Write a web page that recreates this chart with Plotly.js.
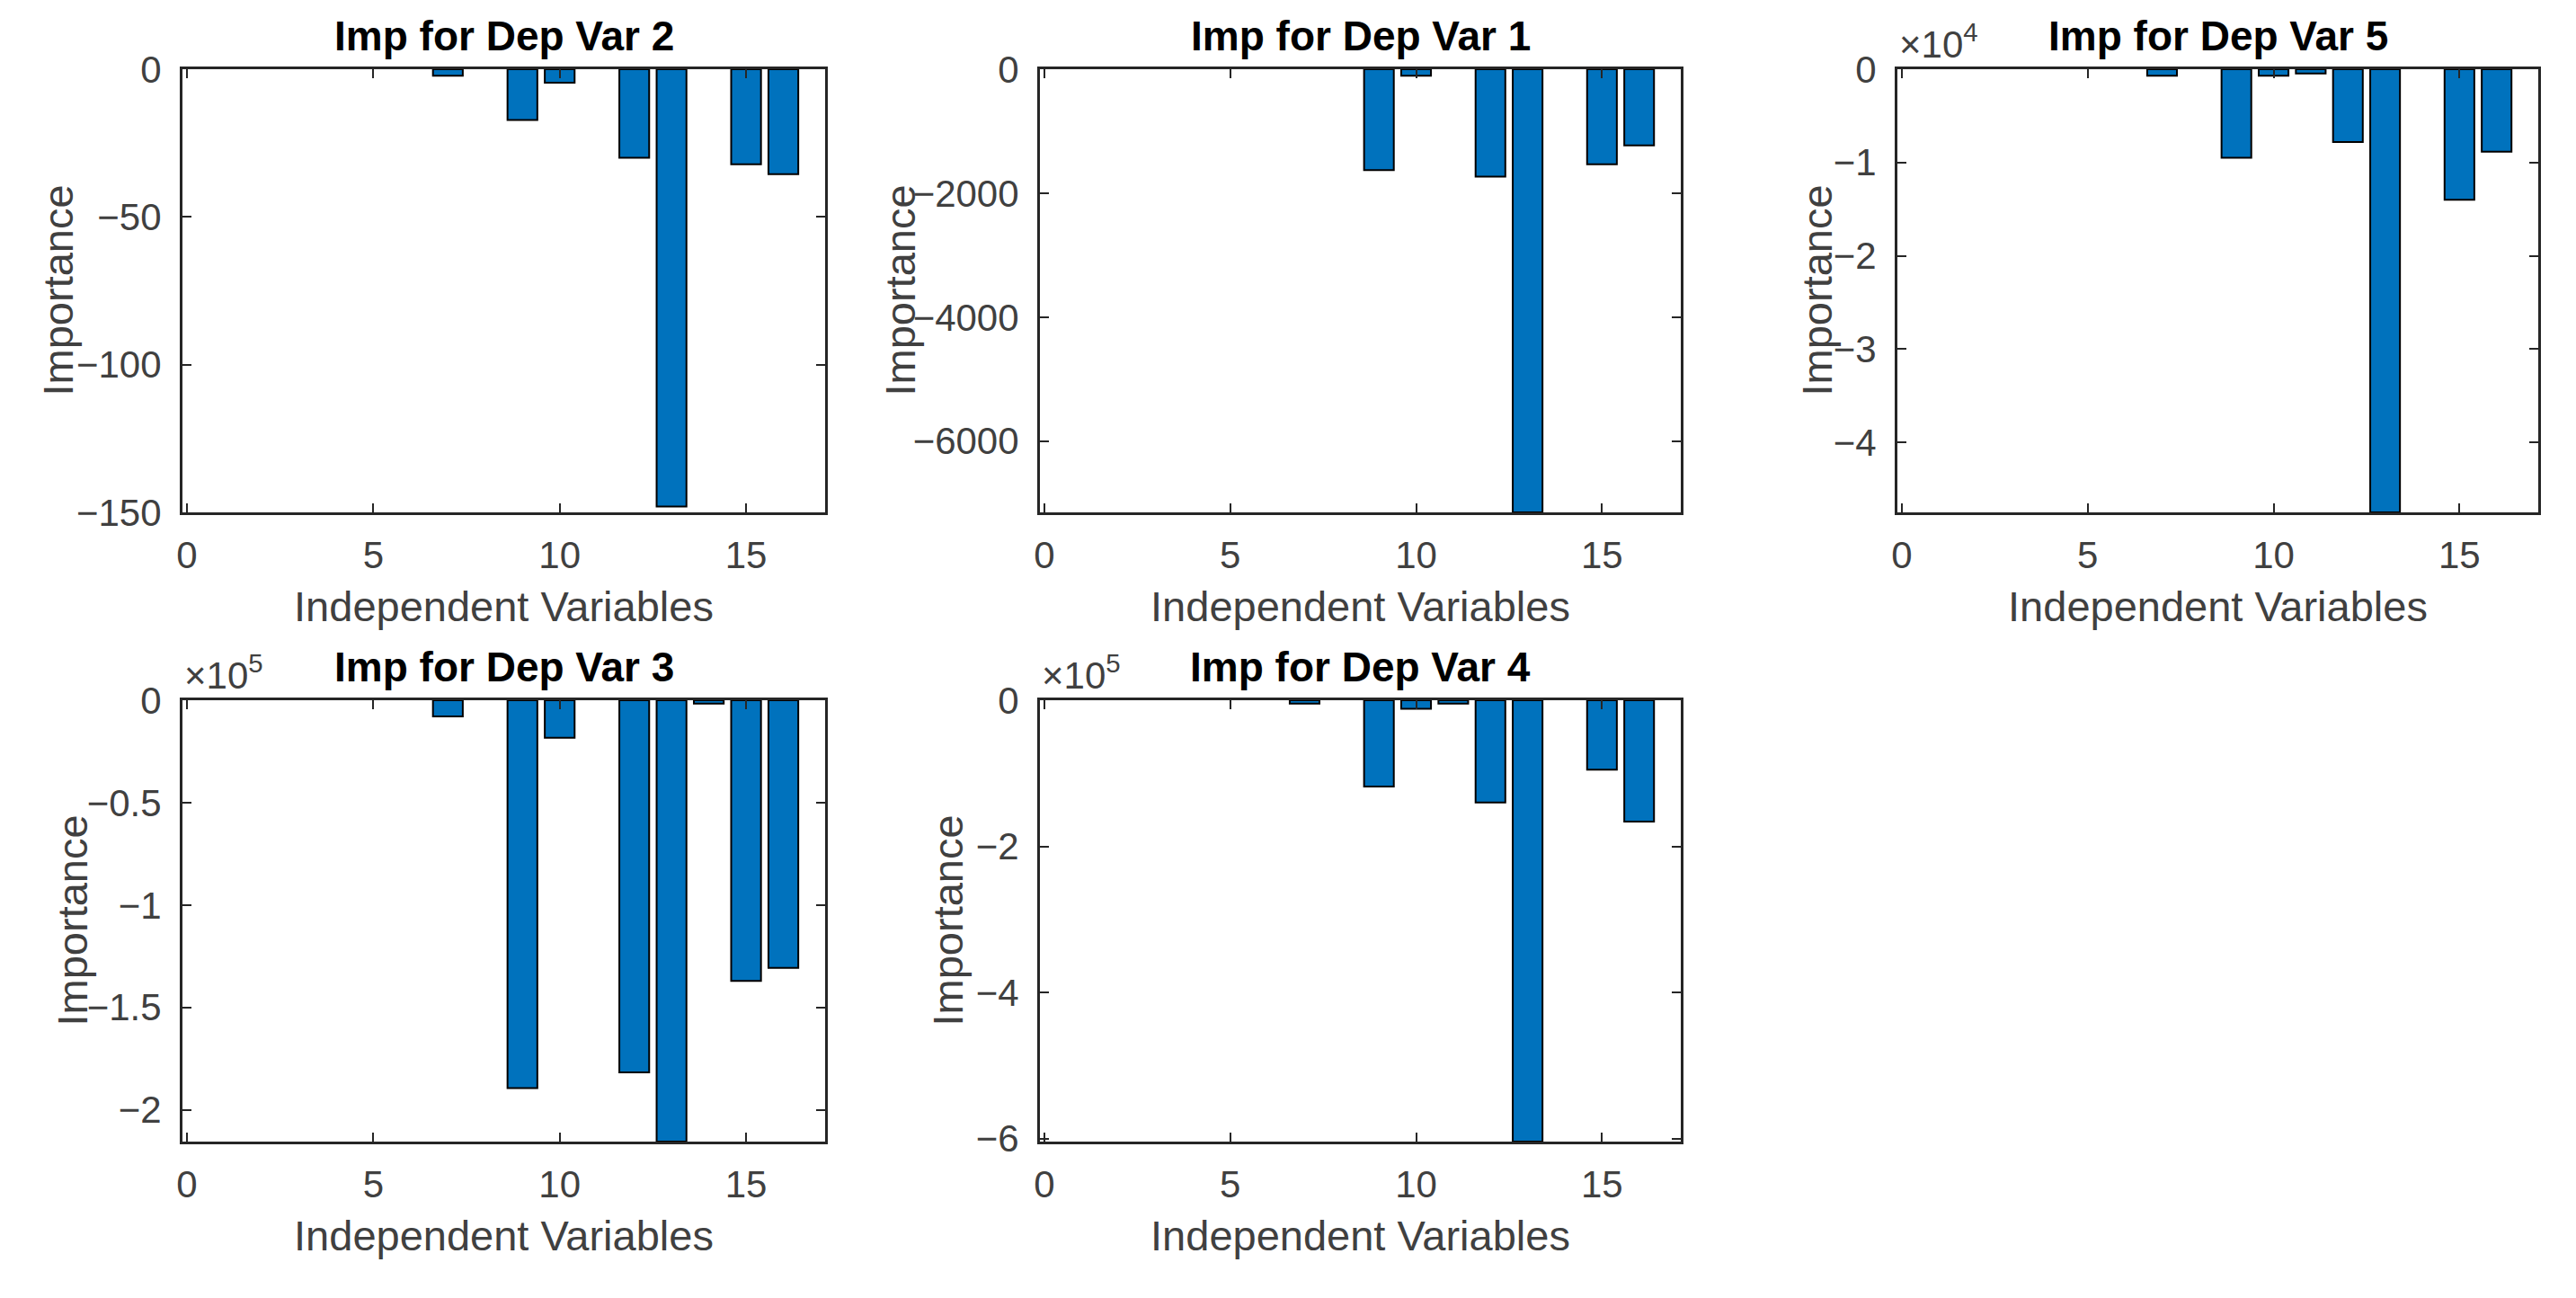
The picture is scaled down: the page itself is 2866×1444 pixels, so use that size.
<!DOCTYPE html>
<html><head><meta charset="utf-8">
<script src="https://cdn.plot.ly/plotly-3.0.1.min.js"></script>
<style>html,body{margin:0;padding:0;background:#fff}#chart{width:2866px;height:1444px}</style>
</head><body><div id="chart"></div>
<script>
// Independent variable index (categories)
const vars = [1,2,3,4,5,6,7,8,9,10,11,12,13,14,15,16];
// Panel titles
const titles = ['Imp for Dep Var 2','Imp for Dep Var 1','Imp for Dep Var 5','Imp for Dep Var 3','Imp for Dep Var 4'];
// Importance values
const impDep2 = [0,0,0,0,0,0,-2.2,0,-17.2,-4.6,0,-30,-148,0,-32.2,-35.5];
const impDep1 = [0,0,0,0,0,0,0,0,-1628,-106,0,-1734,-7150,0,-1535,-1229];
const impDep5 = [0,0,0,0,0,0,-700,0,-9500,-700,-450,-7800,-47500,0,-14000,-8850];
const impDep3 = [0,0,0,0,0,0,-7900,0,-189400,-18300,0,-181700,-215500,-1700,-137000,-130700];
const impDep4 = [0,0,0,0,0,0,-4700,0,-118000,-11800,-4700,-140000,-604000,0,-95000,-166000];
// Axis ranges / ticks
const xTicks = [0,5,10,15];
const yMin = [-150,-7150,-47500,-215500,-604000];
const yTickVals = [[0,-50,-100,-150],[0,-2000,-4000,-6000],[0,-1e4,-2e4,-3e4,-4e4],[0,-0.5e5,-1e5,-1.5e5,-2e5],[0,-2e5,-4e5,-6e5]];
const yTickText = [['0','−50','−100','−150'],['0','−2000','−4000','−6000'],['0','−1','−2','−3','−4'],['0','−0.5','−1','−1.5','−2'],['0','−2','−4','−6']];
const exponents = [null,null,'4','5','5'];
const xLabel = 'Independent Variables';
const yLabel = 'Importance';

const series = [impDep2, impDep1, impDep5, impDep3, impDep4];
const W = 2866, H = 1444;
const colDom = [[203/W, 918/W],[1157/W, 1870/W],[2111/W, 2824/W]];
const rowDom = [[1-570/H, 1-77/H],[1-1270/H, 1-779/H]];
const place = [[0,0],[1,0],[2,0],[0,1],[1,1]];
const yTitleOffset = [139,156,90,123,103]; // px left of the axis (layout)

const FONT = 'Liberation Sans, Arial, Helvetica, sans-serif';
const AX = '#262626', TXT = '#404040';

const data = [], annotations = [];
const layout = {
  width: W, height: H, margin: {l:0,r:0,t:0,b:0},
  paper_bgcolor: '#fff', plot_bgcolor: '#fff', showlegend: false,
  font: {family: FONT, color: TXT},
  bargap: 0.2
};

series.forEach((vals, i) => {
  const n = i === 0 ? '' : String(i+1);
  const [c, r] = place[i];
  data.push({
    type: 'bar', x: vars, y: vals, xaxis: 'x'+n, yaxis: 'y'+n,
    marker: {color: '#0072BD', line: {color: '#000', width: vals.map(v => v === 0 ? 0 : 2)}},
    hoverinfo: 'x+y'
  });
  const common = {
    showline: true, linecolor: AX, linewidth: 3, mirror: 'ticks',
    ticks: 'inside', ticklen: 10, tickwidth: 2, tickcolor: AX,
    showgrid: false, zeroline: false,
    tickfont: {family: FONT, size: 42, color: TXT}
  };
  layout['xaxis'+n] = Object.assign({}, common, {
    domain: colDom[c], anchor: 'y'+n, range: [-0.12, 17.12],
    tickvals: xTicks, ticktext: xTicks.map(String), ticklabelstandoff: 9,
    title: {text: xLabel, font: {family: FONT, size: 47, color: TXT}, standoff: 18}
  });
  layout['yaxis'+n] = Object.assign({}, common, {
    domain: rowDom[r], anchor: 'x'+n, range: [yMin[i], 0],
    tickvals: yTickVals[i], ticktext: yTickText[i], ticklabelstandoff: 12
  });
  annotations.push({
    xref: 'paper', yref: 'paper', x: colDom[c][0], y: (rowDom[r][0]+rowDom[r][1])/2,
    xanchor: 'center', yanchor: 'middle', xshift: -yTitleOffset[i], textangle: -90, showarrow: false,
    text: yLabel, font: {family: FONT, size: 47, color: TXT}
  });
  annotations.push({
    xref: 'paper', yref: 'paper', x: (colDom[c][0]+colDom[c][1])/2, y: rowDom[r][1],
    xanchor: 'center', yanchor: 'bottom', yshift: 9, showarrow: false,
    text: '<b>' + titles[i] + '</b>', font: {family: FONT, size: 46, color: '#000'}
  });
  if (exponents[i]) {
    annotations.push({
      xref: 'paper', yref: 'paper', x: colDom[c][0], y: rowDom[r][1],
      xanchor: 'left', yanchor: 'bottom', yshift: 2, showarrow: false,
      text: '×10<sup>' + exponents[i] + '</sup>', font: {family: FONT, size: 42, color: TXT}
    });
  }
});
layout.annotations = annotations;
Plotly.newPlot('chart', data, layout, {displayModeBar: false, staticPlot: true});
</script></body></html>
